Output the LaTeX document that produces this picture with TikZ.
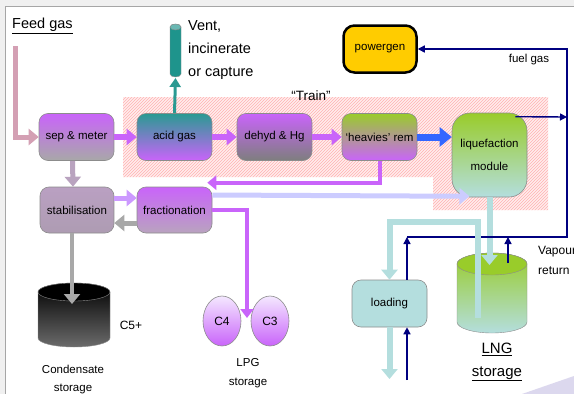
\documentclass[tikz,border=0pt]{standalone}
\usepackage{fontspec}
\setmainfont{Liberation Sans}
\usetikzlibrary{arrows.meta,patterns,shapes.geometric}

\definecolor{purpleflow}{HTML}{C964FA}
\definecolor{acidteal}{HTML}{2A9A92}
\definecolor{ventteal}{HTML}{1E948C}
\definecolor{greytone}{HTML}{A8A8A8}
\definecolor{darkgreytone}{HTML}{7E7E7E}
\definecolor{leafgreen}{HTML}{99CC2A}
\definecolor{icebl}{HTML}{B4DEDE}
\definecolor{mauve}{HTML}{B9A3BF}
\definecolor{lavender}{HTML}{CCCCFF}
\definecolor{lightpurple}{HTML}{CC99FF}
\definecolor{lilac}{HTML}{F4E8FF}
\definecolor{feedpink}{HTML}{D4A0B4}
\definecolor{vapnavy}{HTML}{000080}
\definecolor{blueflow}{HTML}{3366FF}
\definecolor{powyellow}{HTML}{FFCC00}
\definecolor{edgegray}{HTML}{8C8C8C}
\definecolor{framegray}{HTML}{F0F0F0}
\definecolor{swoosh}{HTML}{DCD8EE}

\begin{document}
\begin{tikzpicture}[x=1pt, y=-1pt,
    unit/.style={rectangle, rounded corners=9pt, draw=edgegray, line width=0.6pt, minimum width=75pt, minimum height=47pt, align=center, font=\fontsize{11.5}{14}\selectfont},
    tank/.style={ellipse, draw=edgegray, line width=0.6pt, minimum width=38pt, minimum height=50pt, inner sep=0pt, top color=lilac, bottom color=purpleflow, font=\fontsize{12}{14}\selectfont},
    flow/.style={line width=6pt, -{Triangle[length=10pt,width=16pt]}},
    vapour/.style={draw=vapnavy, line width=1.4pt, -{Triangle[length=7pt,width=7pt]}},
    caption/.style={align=center, inner sep=0pt, font=\fontsize{11.5}{18}\selectfont}
]
    \clip (0,0) rectangle (574,394);
    % Frame
    \fill[framegray] (0,0) rectangle (574,394);
    \fill[white] (5,6) rectangle (574,394);
    \draw[gray!70, line width=1pt] (5,394) -- (5,6) -- (574,6);
    \fill[swoosh] (522,394) -- (574,376) -- (574,394) -- cycle;

    % Train
    \fill[red!7] (123,97) -- (548,97) -- (548,210) -- (433,210) -- (433,177) -- (123,177) -- cycle;
    \fill[pattern=north east lines, pattern color=red!30] (123,97) -- (548,97) -- (548,210) -- (433,210) -- (433,177) -- (123,177) -- cycle;
    \node[inner sep=0pt, font=\fontsize{13.5}{16}\selectfont] (train) at (311,96) {“Train”};

    % Texts
    \node[anchor=west, inner sep=0pt, font=\fontsize{14.5}{17}\selectfont] (feed) at (12,26) {\underline{Feed gas}};
    \node[anchor=west, align=left, inner sep=0pt, font=\fontsize{14.5}{23}\selectfont] (vent) at (188,50) {Vent,\\incinerate\\or capture};
    \node[inner sep=0pt, font=\fontsize{11.5}{14}\selectfont] (fuel) at (529,60) {fuel gas};
    \node[anchor=west, align=left, inner sep=0pt, font=\fontsize{12}{20}\selectfont] (vapret) at (538,260) {Vapour\\return};
    \node[caption, font=\fontsize{15}{23}\selectfont] (lngtxt) at (497,362) {\underline{LNG}\\\underline{storage}};
    \node[caption, font=\fontsize{12}{14}\selectfont] (c5) at (131,325) {C5+};
    \node[caption] (condtxt) at (73,380) {Condensate\\storage};
    \node[caption, font=\fontsize{11.5}{19}\selectfont] (lpgtxt) at (248,373) {LPG\\storage};

    % Vent stack
    \path[fill=ventteal, draw=edgegray] (170,27) -- (170,74) arc[start angle=180, end angle=0, x radius=5.5, y radius=3] -- (181,27) arc[start angle=0, end angle=-180, x radius=5.5, y radius=3] -- cycle;
    \filldraw[fill=acidteal!70, draw=edgegray] (175.5,27) ellipse[x radius=5.5, y radius=3];

    % Condensate storage
    \path[top color=black, bottom color=black!58, draw=edgegray] (38,292) -- (38,338) arc[start angle=180, end angle=0, x radius=36, y radius=9] -- (110,292) arc[start angle=0, end angle=-180, x radius=36, y radius=9] -- cycle;
    \filldraw[fill=black, draw=edgegray] (74,292) ellipse[x radius=36, y radius=9];

    % LNG storage
    \path[top color=leafgreen, bottom color=icebl, draw=edgegray] (457,264) -- (457,322) arc[start angle=180, end angle=0, x radius=35, y radius=11] -- (527,264) arc[start angle=0, end angle=-180, x radius=35, y radius=11] -- cycle;
    \filldraw[fill=leafgreen, draw=edgegray] (492,264) ellipse[x radius=35, y radius=11];

    % Units
    \node[unit, top color=purpleflow, bottom color=greytone] (sep) at (76.5,137) {sep \& meter};
    \node[unit, top color=acidteal, bottom color=purpleflow] (acid) at (174.5,137) {acid gas};
    \node[unit, top color=purpleflow, bottom color=darkgreytone] (dehyd) at (274.5,137) {dehyd \& Hg};
    \node[unit, top color=leafgreen, bottom color=purpleflow] (heavy) at (379.5,137) {‘heavies’ rem};
    \node[unit, rounded corners=18pt, minimum height=84pt, top color=leafgreen, bottom color=icebl, font=\fontsize{11.5}{23}\selectfont] (liq) at (489.5,155) {liquefaction\\module};
    \node[unit, minimum width=73pt, draw=black, line width=2.5pt, rounded corners=11pt, fill=powyellow] (power) at (380,49) {powergen};
    \node[unit, minimum width=74pt, minimum height=46pt, top color=mauve!95!purpleflow, bottom color=mauve!80!gray] (stab) at (77,210) {stabilisation};
    \node[unit, minimum height=46pt, top color=purpleflow, bottom color=mauve] (frac) at (174.5,210) {fractionation};
    \node[unit, fill=icebl] (load) at (389.5,303.5) {loading};
    \node[tank] (c4) at (222,321) {C4};
    \node[tank] (c3) at (270,321) {C3};

    % Ends
    \coordinate (feedtop) at (15,46);
    \coordinate (ventbase) at (175.5,78);
    \coordinate (condtop) at (72,304);
    \coordinate (lpgin) at (247,318);
    \coordinate (lngin) at (489.5,265);
    \coordinate (lngout) at (478,318);
    \coordinate (lngvap) at (508,263);
    \coordinate (fuelj) at (567,117);
    \coordinate (vapL) at (407,237);
    \coordinate (vapR) at (567,237);
    \coordinate (shipin) at (407,380);
    \coordinate (shipout) at (389.5,379);

    % Flows
    \draw[flow, feedpink, line width=5pt] (feedtop) |- (sep.west);
    \draw[flow, purpleflow] (sep) -- (acid);
    \draw[acidteal, line width=3pt, -{Triangle[length=9pt,width=11pt]}] (acid.north) -- (ventbase);
    \draw[flow, purpleflow] (dehyd.west -| acid.east) -- (dehyd);
    \draw[flow, purpleflow] (dehyd) -- (heavy);
    \draw[flow, blueflow, line width=7pt, -{Triangle[length=12pt,width=19pt]}] (heavy) -- (liq.west |- heavy);
    \draw[flow, purpleflow, line width=4pt, -{Triangle[length=9pt,width=14pt]}] (heavy.south) |- ([xshift=-5pt,yshift=4pt]frac.north east);
    \draw[flow, lavender, line width=5pt] ([yshift=15pt]frac.east) -- ([xshift=-20pt,yshift=1pt]liq.south);
    \draw[flow, mauve, line width=5pt] ([xshift=-4pt]sep.south) -- ([xshift=-4pt]stab.north);
    \draw[flow, lightpurple, line width=5pt] ([yshift=12pt]stab.east) -- ([yshift=12pt]frac.west);
    \draw[flow, greytone, line width=5pt] ([yshift=-13pt]frac.west) -- ([yshift=-13pt]stab.east);
    \draw[flow, greytone, line width=4pt] ([xshift=-5pt]stab.south) -- (condtop);
    \draw[flow, purpleflow, line width=4pt, -{Triangle[length=9pt,width=13pt]}] (frac.east) -| (lpgin);
    \draw[flow, icebl] (liq.south) -- (lngin);
    \draw[flow, icebl] (load.south) -- (shipout);

    % Vapour and fuel gas
    \draw[vapour] (vapL) -- (vapR) |- (power.east);
    \draw[vapour] ([xshift=-12pt,yshift=-4pt]liq.north east) -- (fuelj);
    \draw[vapour] (load.north -| vapL) -- (vapL);
    \draw[vapour] (lngvap) -- (lngvap |- vapL);
    \draw[vapour] (shipin) -- (shipin |- load.south);
    \draw[flow, icebl] (lngout) |- ([yshift=58pt]load.north) -- (load.north);
\end{tikzpicture}
\end{document}
